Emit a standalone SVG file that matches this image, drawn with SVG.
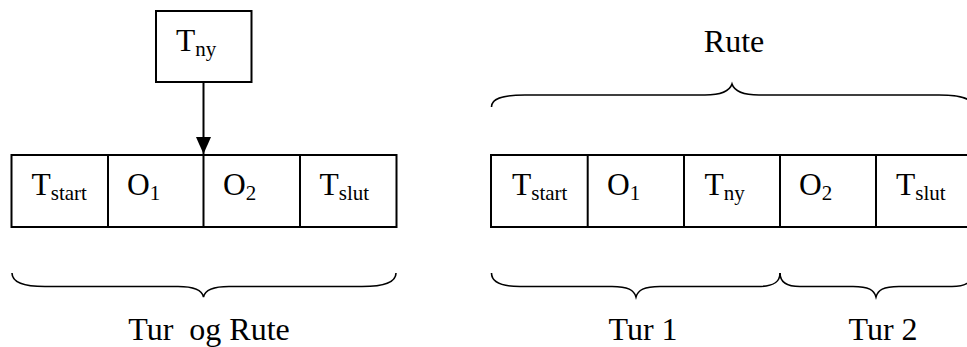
<svg xmlns="http://www.w3.org/2000/svg" width="967" height="347" viewBox="0 0 967 347">
  <defs>
    <style>
      .box { fill: #fff; stroke: #000; stroke-width: 2; }
      .sep { stroke: #000; stroke-width: 2; }
      .brace { fill: none; stroke: #000; stroke-width: 1.6; }
      .link { stroke: #000; stroke-width: 2; fill: none; }
    </style>
    <marker id="arrow" viewBox="0 0 17 15" refX="17" refY="7.5" markerWidth="17" markerHeight="15" markerUnits="userSpaceOnUse" orient="auto">
      <path d="M0,0 L17,7.5 L0,15 Z" fill="#000"/>
    </marker>
  </defs>

  <!-- Left: route with the new stop about to be inserted -->
  <g id="new-stop">
    <rect class="box" x="156" y="11" width="95.5" height="71"/>
    <text font-family="Liberation Serif" font-size="31.5" fill="#000" x="176" y="50.5">T<tspan font-size="21" dy="5">ny</tspan></text>
  </g>

  <g id="connectors">
    <line class="link" x1="203.5" y1="82" x2="203.5" y2="154" marker-end="url(#arrow)"/>
  </g>

  <g id="route-before" font-family="Liberation Serif" font-size="31.5" fill="#000">
    <rect class="box" x="11.5" y="155" width="385" height="72"/>
    <line class="sep" x1="108" y1="155" x2="108" y2="227"/>
    <line class="sep" x1="203.5" y1="155" x2="203.5" y2="227"/>
    <line class="sep" x1="300" y1="155" x2="300" y2="227"/>
    <text x="31.5" y="194.5">T<tspan font-size="21" dy="5">start</tspan></text>
    <text x="127" y="194.5">O<tspan font-size="21" dy="5">1</tspan></text>
    <text x="223" y="194.5">O<tspan font-size="21" dy="5">2</tspan></text>
    <text x="319.5" y="194.5">T<tspan font-size="21" dy="5">slut</tspan></text>
  </g>

  <g id="brace-tur-og-rute" font-family="Liberation Serif" font-size="32" fill="#000" text-anchor="middle">
    <path class="brace" d="M12,273 C12,282 22,286.5 45,286.5 L178,286.5 C195,286.5 202,290 203.5,297 C205,290 212,286.5 229,286.5 L362,286.5 C385,286.5 396,282 396,273"/>
    <text x="209" y="340" xml:space="preserve">Tur  og Rute</text>
  </g>

  <!-- Right: route after insertion, split into two tours -->
  <g id="brace-rute" font-family="Liberation Serif" font-size="32" fill="#000" text-anchor="middle">
    <text x="734" y="52">Rute</text>
    <path class="brace" d="M491.5,107 C491.5,99 501,95 525,95 L705,95 C722,95 730,90 732,84 C734,90 742,95 759,95 L939,95 C963,95 972.5,99 972.5,107"/>
  </g>

  <g id="route-after" font-family="Liberation Serif" font-size="31.5" fill="#000">
    <rect class="box" x="491" y="155" width="482" height="72"/>
    <line class="sep" x1="587.7" y1="155" x2="587.7" y2="227"/>
    <line class="sep" x1="684" y1="155" x2="684" y2="227"/>
    <line class="sep" x1="780" y1="155" x2="780" y2="227"/>
    <line class="sep" x1="876" y1="155" x2="876" y2="227"/>
    <text x="512" y="194.5">T<tspan font-size="21" dy="5">start</tspan></text>
    <text x="607" y="194.5">O<tspan font-size="21" dy="5">1</tspan></text>
    <text x="704.5" y="194.5">T<tspan font-size="21" dy="5">ny</tspan></text>
    <text x="799" y="194.5">O<tspan font-size="21" dy="5">2</tspan></text>
    <text x="896" y="194.5">T<tspan font-size="21" dy="5">slut</tspan></text>
  </g>

  <g id="brace-tur-1" font-family="Liberation Serif" font-size="32" fill="#000" text-anchor="middle">
    <path class="brace" d="M491.5,273 C491.5,282 500,286.5 520,286.5 L612,286.5 C628,286.5 634,290 636,297 C638,290 644,286.5 660,286.5 L758,286.5 C774,286.5 780,282 780,273"/>
    <text x="643" y="340">Tur 1</text>
  </g>

  <g id="brace-tur-2" font-family="Liberation Serif" font-size="32" fill="#000" text-anchor="middle">
    <path class="brace" d="M780,273 C780,282 786,286.5 800,286.5 L853,286.5 C869,286.5 874,290 876,297 C878,290 883,286.5 899,286.5 L952,286.5 C966,286.5 972.5,282 972.5,273"/>
    <text x="883" y="340">Tur 2</text>
  </g>
</svg>
